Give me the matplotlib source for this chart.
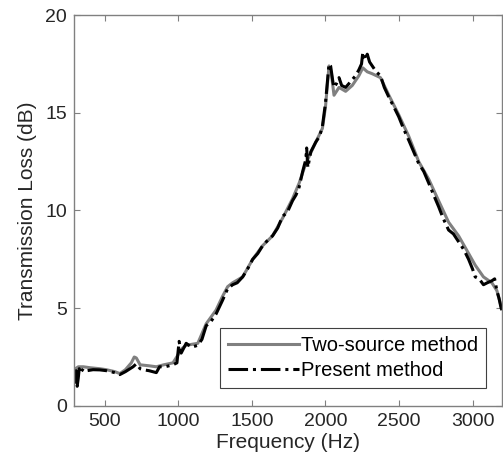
import matplotlib
matplotlib.use('Agg')
import matplotlib.pyplot as plt

# Present method (black dash-dot)
freq_present = [292, 297, 305, 312, 319, 326, 335, 353, 380, 420, 466, 510, 568,
                602, 640, 692, 714, 740, 760, 800, 850, 872, 910, 963, 990,
                997, 1005, 1019, 1053, 1090, 1132, 1160, 1189, 1220, 1256, 1300,
                1335, 1369, 1400, 1437, 1470, 1505, 1540, 1573, 1610, 1640, 1675,
                1708, 1740, 1776, 1800, 1821, 1845, 1866, 1872, 1880, 1900, 1934,
                1960, 1979, 2000, 2024, 2035, 2050, 2058, 2075, 2092, 2110, 2137,
                2160, 2182, 2205, 2227, 2245, 2254, 2270, 2284, 2300, 2318, 2345,
                2374, 2400, 2431, 2465, 2498, 2530, 2566, 2600, 2634, 2668, 2702,
                2735, 2769, 2800, 2837, 2870, 2905, 2940, 2973, 3000, 3018, 3045,
                3074, 3100, 3131, 3150, 3165, 3180, 3194, 3200]
tl_present = [1.5, 1.2, 1.8, 1.0, 1.4, 1.9, 1.7, 1.9, 1.8, 1.85, 1.84, 1.8, 1.7,
              1.6, 1.75, 2.0, 2.15, 1.9, 1.85, 1.8, 1.7, 2.0, 2.0, 2.1, 2.2,
              2.7, 3.3, 2.7, 3.2, 3.0, 3.1, 3.4, 4.1, 4.3, 4.7, 5.4,
              6.0, 6.2, 6.3, 6.6, 7.0, 7.5, 7.8, 8.2, 8.5, 8.7, 9.1,
              9.7, 9.9, 10.5, 10.8, 11.2, 12.0, 12.6, 13.2, 12.2, 13.0, 13.5,
              13.8, 14.3, 15.5, 17.5, 17.4, 16.6, 16.3, 16.5, 16.8, 16.4, 16.3,
              16.5, 16.7, 16.9, 17.2, 17.5, 18.1, 17.7, 18.0, 17.6, 17.4, 17.1,
              16.9, 16.3, 15.8, 15.3, 14.8, 14.2, 13.6, 13.0, 12.4, 12.0, 11.4,
              10.8, 10.2, 9.6, 9.0, 8.8, 8.4, 8.0, 7.5, 7.0, 6.6, 6.5,
              6.2, 6.3, 6.4, 6.5, 5.9, 5.5, 5.0, 4.9]

# Two-source method (grey solid)
freq_two = [292, 300, 320, 353, 400, 466, 510, 568, 602, 640, 680, 700, 714,
            740, 800, 850, 900, 963, 997, 1019, 1053, 1132, 1189, 1256, 1300,
            1335, 1369, 1437, 1505, 1573, 1640, 1708, 1776, 1821, 1866, 1934,
            1979, 2000, 2024, 2040, 2058, 2092, 2137, 2182, 2227, 2254, 2284,
            2318, 2374, 2431, 2498, 2566, 2634, 2702, 2769, 2837, 2905, 2973,
            3018, 3074, 3131, 3165, 3194, 3200]
tl_two = [1.6, 1.9, 2.0, 2.0, 1.95, 1.9, 1.85, 1.75, 1.65, 1.85, 2.2, 2.5, 2.45,
          2.1, 2.05, 2.0, 2.1, 2.2, 2.6, 2.9, 3.1, 3.2, 4.2, 4.9, 5.6,
          6.1, 6.3, 6.6, 7.5, 8.2, 8.7, 9.6, 10.6, 11.4, 12.4, 13.5,
          14.2, 15.3, 17.4, 17.0, 15.9, 16.3, 16.1, 16.4, 16.9, 17.3, 17.1,
          17.0, 16.8, 15.9, 14.9, 13.8, 12.5, 11.6, 10.5, 9.4, 8.7, 7.8,
          7.2, 6.6, 6.3, 5.9, 5.1, 5.0]

plt.rcParams['font.family'] = ['Liberation Sans', 'DejaVu Sans']
txt = '#262626'

fig = plt.figure(figsize=(5.03, 4.73), dpi=100)
ax = fig.add_axes([0.147, 0.142, 0.851, 0.826])

ax.plot(freq_two, tl_two, '-', color='#808080', lw=2.2, label='Two-source method')
ax.plot(freq_present, tl_present, '-.', color='black', lw=2.2, label='Present method')

ax.set_xlim(290, 3200)
ax.set_ylim(0, 20)
ax.set_xticks([500, 1000, 1500, 2000, 2500, 3000])
ax.set_yticks([0, 5, 10, 15, 20])
ax.tick_params(direction='in', top=True, right=True, labelsize=14,
               colors='#808080', labelcolor=txt, length=4, pad=5)
for s in ax.spines.values():
    s.set_color('#808080')
    s.set_linewidth(1.0)

ax.set_xlabel('Frequency (Hz)', fontsize=15, color=txt, labelpad=2)
ax.set_ylabel('Transmission Loss (dB)', fontsize=15, color=txt, labelpad=6)

leg = ax.legend(loc='lower right', bbox_to_anchor=(0.962, 0.045), fontsize=14.5,
                fancybox=False, framealpha=1, edgecolor='#404040',
                handlelength=3.5, handletextpad=0.1, borderpad=0.4,
                labelspacing=0.3, borderaxespad=0)
leg.get_frame().set_linewidth(0.8)

fig.savefig('out.png', dpi=100)
